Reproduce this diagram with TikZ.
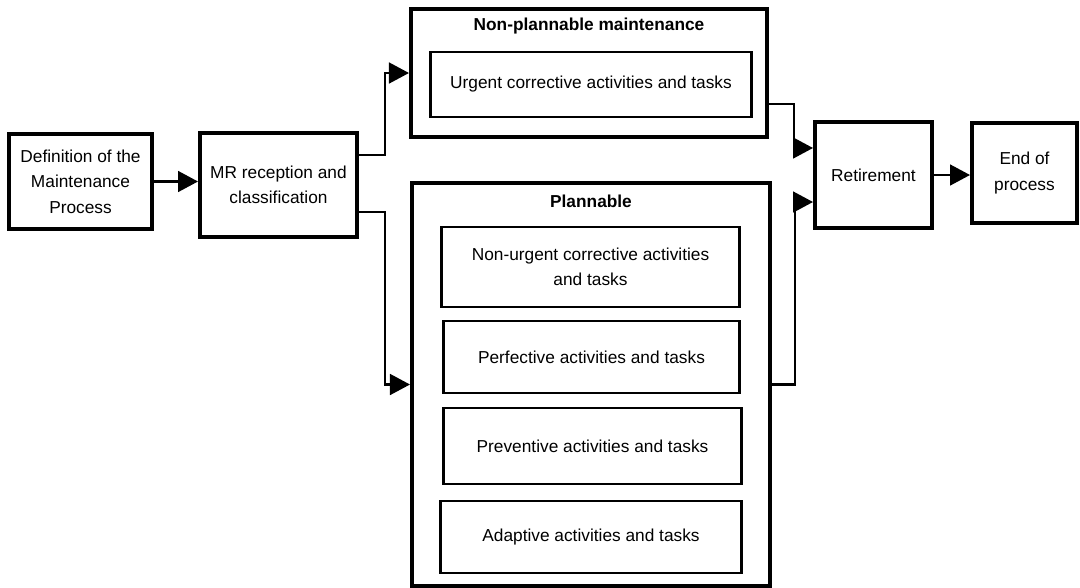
\documentclass[tikz,border=0pt]{standalone}
\usepackage{fontspec}
\setmainfont{Liberation Sans}
\usetikzlibrary{arrows.meta}

\begin{document}
\begin{tikzpicture}[x=0.025cm,y=-0.025cm,
  font=\fontsize{12.3}{18}\selectfont,
  box/.style={draw,line width=2.8pt,align=center,inner sep=0pt},
  task/.style={draw,line width=2.1pt,align=center,inner sep=0pt},
  title/.style={font=\fontsize{12.3}{18}\selectfont\bfseries},
  link/.style={line width=1.6pt,-{Triangle[length=0.5cm,width=0.52cm]}}]
\useasboundingbox (0,0) rectangle (1080,587);
\node[box,minimum width=3.575cm,minimum height=2.375cm] (def) at (80.5,181.5) {Definition of the\\Maintenance\\Process};
\node[box,minimum width=3.925cm,minimum height=2.6cm] (mr) at (278.5,185) {MR reception and\\classification};
% non-plannable
\node[box,minimum width=8.9cm,minimum height=3.2cm] (nonplan) at (589,73) {};
\node[title] (nptitle) at (589,26) {Non-plannable maintenance};
\node[task,minimum width=8cm,minimum height=1.625cm] (urgent) at (591,84.5) {Urgent corrective activities and tasks};
% plannable
\node[box,minimum width=8.95cm,minimum height=10.075cm] (plan) at (591,384.5) {};
\node[title] (pltitle) at (591,201) {Plannable};
\node[task,minimum width=7.425cm,minimum height=2cm] (nonurg) at (590.5,267) {Non-urgent corrective activities\\and tasks};
\node[task,minimum width=7.375cm,minimum height=1.8cm] (perf) at (591.5,357) {Perfective activities and tasks};
\node[task,minimum width=7.425cm,minimum height=1.9cm] (prev) at (592.5,446) {Preventive activities and tasks};
\node[task,minimum width=7.5cm,minimum height=1.8cm] (adapt) at (591,537) {Adaptive activities and tasks};
\node[box,minimum width=2.925cm,minimum height=2.65cm] (retire) at (873.5,175) {Retirement};
\node[box,minimum width=2.625cm,minimum height=2.5cm] (endp) at (1024.5,173) {End of\\process};
\draw[link] (def.east) -- (def.east -| mr.west);
\draw[link] ([yshift=-0.6cm]mr.north east) -- ++(0.65cm,0) |- (nonplan.west);
\draw[link] ([yshift=0.675cm]mr.south east) -- ++(0.65cm,0) |- (plan.west);
\draw[link] ([yshift=-0.775cm]nonplan.east) -- ++(0.625cm,0) |- ([yshift=0.675cm]retire.west);
\draw[link] (plan.east) -- ++(0.575cm,0) |- ([yshift=-0.675cm]retire.west);
\draw[link] (retire.east) -- (retire.east -| endp.west);
\end{tikzpicture}
\end{document}
